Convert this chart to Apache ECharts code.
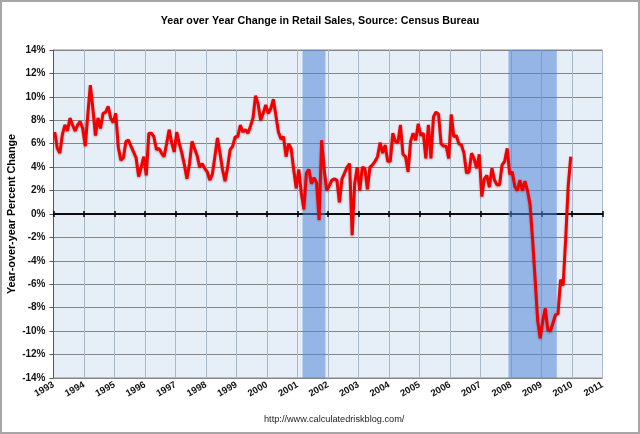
<!DOCTYPE html>
<html>
<head>
<meta charset="utf-8">
<script src="https://cdn.jsdelivr.net/npm/echarts@6/dist/echarts.min.js"></script>
<style>
html, body { margin: 0; padding: 0; background: #fff; }
#chart { width: 640px; height: 434px; }
#frame { position: absolute; left: 0; top: 0; width: 640px; height: 434px; box-sizing: border-box; border: 2px solid #a6a6a6; pointer-events: none; }
</style>
</head>
<body>
<div id="chart"></div>
<div id="frame"></div>
<script>
// monthly YoY % change, Jan 1993 .. Dec 2009
var startYear = 1993
var yoyChange = [
  7.0, 5.6, 5.2, 6.8, 7.6, 7.1, 8.2, 7.6, 7.1, 7.6, 7.9, 7.3,
  5.8, 8.5, 11.0, 9.0, 6.7, 8.2, 7.3, 8.6, 8.7, 9.2, 8.2, 7.8,
  8.6, 5.7, 4.6, 4.8, 6.2, 6.3, 5.8, 5.3, 4.8, 3.2, 4.0, 4.9,
  3.3, 6.9, 6.9, 6.6, 5.5, 5.6, 5.2, 4.9, 6.0, 7.2, 6.1, 5.3,
  7.0, 6.0, 5.2, 4.2, 3.0, 4.3, 6.2, 5.6, 5.0, 4.0, 4.3, 3.9,
  3.6, 2.9, 3.4, 4.9, 6.5, 5.2, 3.8, 2.8, 4.0, 5.5, 5.8, 6.6,
  6.6, 7.6, 7.0, 7.2, 6.9, 7.5, 8.2, 10.1, 9.4, 8.0, 8.6, 9.3,
  8.6, 9.0, 9.8, 8.4, 7.0, 6.4, 6.6, 4.9, 6.0, 5.6, 3.8, 2.2,
  3.8, 1.8, 0.4, 3.5, 3.8, 2.6, 3.1, 2.7, -0.5, 6.3, 3.8, 2.0,
  2.4, 2.9, 3.0, 2.9, 1.0, 3.0, 3.5, 4.0, 4.3, -1.8, 2.6, 4.0,
  2.0, 4.0, 3.9, 2.1, 4.0, 4.2, 4.5, 4.9, 6.1, 5.2, 5.9, 4.5,
  4.5, 6.9, 6.2, 6.1, 7.6, 5.1, 4.9, 3.6, 6.2, 6.9, 6.3, 7.7,
  6.7, 6.9, 4.75, 7.6, 4.75, 8.3, 8.7, 8.5, 6.0, 5.8, 5.8, 4.75,
  8.5, 6.6, 6.7, 6.0, 5.9, 5.2, 3.5, 3.6, 5.2, 4.7, 3.9, 5.1,
  1.5, 3.0, 3.3, 2.3, 3.9, 2.9, 2.5, 2.5, 4.2, 4.5, 5.6, 3.4,
  3.6, 2.35, 2.0, 2.9, 2.0, 2.8, 2.0, 0.8, -2.2, -5.6, -9.1, -10.6,
  -9.1, -8.05, -9.9, -10.0, -9.3, -8.6, -8.5, -5.6, -6.1, -2.2, 2.35, 4.9
]

// recessions [year, month]
var recessionFrom = [[2001, 3], [2007, 12]]
var recessionTo = [[2001, 11], [2009, 6]]

var xMin = 1993
var xMax = 2011
var yMin = -14
var yMax = 14

var font = "'Liberation Sans', Arial, sans-serif"

var lineData = yoyChange.map(function(v, i) {
  return [startYear + (i + 0.5) / 12, v]
})
var bands = recessionFrom.map(function(f, i) {
  var t = recessionTo[i]
  return [{ xAxis: f[0] + (f[1] - 1) / 12 }, { xAxis: t[0] + t[1] / 12 }]
})

var zeroAxis = function(inside) {
  return {
    type: 'value',
    min: xMin,
    max: xMax,
    interval: 1,
    position: 'bottom',
    axisLine: {
      show: true,
      onZero: true,
      onZeroAxisIndex: 0,
      lineStyle: { color: '#000', width: 1.5 }
    },
    axisTick: { show: true, inside: inside, length: 3, lineStyle: { color: '#000', width: 1.5 } },
    axisLabel: { show: false },
    splitLine: { show: false }
  }
}

var option = {
  animation: false,
  backgroundColor: '#fff',
  title: [
    {
      text: 'Year over Year Change in Retail Sales, Source: Census Bureau',
      left: 'center',
      top: 11,
      textStyle: { fontFamily: font, fontSize: 10.7, fontWeight: 'bold', color: '#000' }
    },
    {
      text: 'http://www.calculatedriskblog.com/',
      left: 259,
      top: 410,
      textStyle: { fontFamily: font, fontSize: 9.2, fontWeight: 'normal', color: '#222' }
    }
  ],
  grid: {
    left: 53.5,
    right: 37.5,
    top: 50,
    bottom: 56,
    outerBoundsMode: 'none',
    containLabel: false,
    show: true,
    backgroundColor: '#e6eef8',
    borderColor: '#8a8a8a',
    borderWidth: 1
  },
  xAxis: [
    {
      type: 'value',
      min: xMin,
      max: xMax,
      interval: 1,
      position: 'bottom',
      axisLine: { show: false, onZero: false },
      axisTick: { show: false },
      axisLabel: {
        rotate: 30,
        margin: 6,
        fontFamily: font,
        fontSize: 9.5,
        fontWeight: 'bold',
        color: '#111',
        formatter: function(v) { return String(v) }
      },
      splitLine: { show: true, lineStyle: { color: '#a9b7c7', width: 1 } }
    },
    zeroAxis(false),
    zeroAxis(true)
  ],
  yAxis: {
    type: 'value',
    min: yMin,
    max: yMax,
    interval: 2,
    name: 'Year-over-year Percent Change',
    nameLocation: 'middle',
    nameGap: 36,
    nameRotate: 90,
    nameMoveOverlap: false,
    nameTextStyle: { fontFamily: font, fontSize: 10.8, fontWeight: 'bold', color: '#000' },
    axisLine: { show: true, onZero: false, lineStyle: { color: '#555', width: 1 } },
    axisTick: { show: true, length: 4, lineStyle: { color: '#555' } },
    axisLabel: {
      fontFamily: font,
      fontSize: 10,
      fontWeight: 'bold',
      color: '#111',
      formatter: '{value}%'
    },
    splitLine: { show: true, lineStyle: { color: '#858585', width: 1 } }
  },
  series: [
    {
      // recession shading
      type: 'line',
      data: [],
      z: 1,
      markArea: {
        silent: true,
        itemStyle: { color: 'rgba(80, 135, 215, 0.55)' },
        data: bands
      }
    },
    {
      name: 'YoY',
      type: 'line',
      data: lineData,
      showSymbol: false,
      z: 5,
      lineStyle: {
        color: '#f20000',
        width: 3,
        shadowColor: 'rgba(90, 0, 0, 0.35)',
        shadowBlur: 2,
        shadowOffsetY: 1
      }
    }
  ]
}

var chart = echarts.init(document.getElementById('chart'))
chart.setOption(option)
window.addEventListener('resize', function() {
  chart.resize()
})
</script>
</body>
</html>
